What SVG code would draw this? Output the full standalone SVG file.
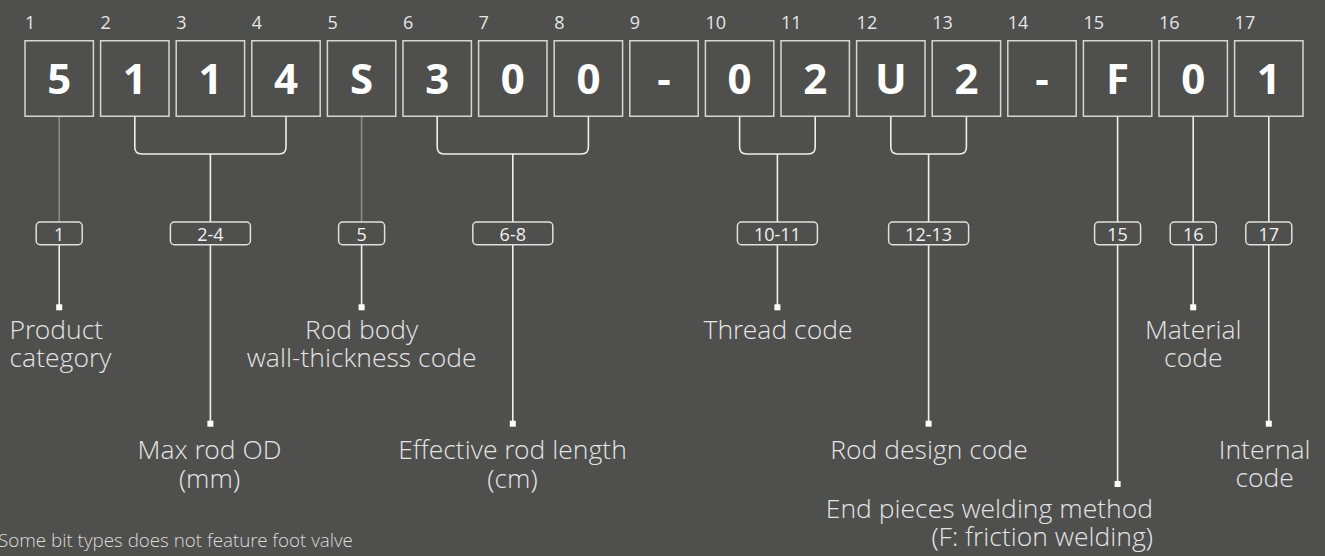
<svg xmlns="http://www.w3.org/2000/svg" width="1325" height="556" viewBox="0 0 1325 556">
<style>
.bg{fill:#4f4f4d}
.box{fill:none;stroke:#d6d6d6;stroke-width:1.5}
.ch{font-family:"Open Sans","Noto Sans","Liberation Sans",sans-serif;font-weight:700;font-size:42px;fill:#ffffff;text-anchor:middle}
.idx{font-family:"Open Sans","Noto Sans","Liberation Sans",sans-serif;font-size:18px;fill:#e6e6e6}
.tag{fill:none;stroke:#e0e0e0;stroke-width:1.5}
.tagt{font-family:"Open Sans","Noto Sans","Liberation Sans",sans-serif;font-size:18px;fill:#f2f2f2;text-anchor:middle}
.lbl{font-family:"Open Sans Light","Open Sans","Noto Sans","Liberation Sans",sans-serif;font-weight:300;font-size:26.5px;fill:#e4e4e4}
.mid{text-anchor:middle}
.end{text-anchor:end}
.note{font-family:"Open Sans Light","Open Sans","Noto Sans","Liberation Sans",sans-serif;font-weight:300;font-size:18.8px;fill:#dcdcdc}
.ln{fill:none;stroke:#eeeeee;stroke-width:1.6}
.lng{fill:none;stroke:#8a8a8a;stroke-width:1.6}
.dot{fill:#ffffff}
</style>
<rect class="bg" x="0" y="0" width="1325" height="556"/>

<g id="connectors">
  <path class="lng" d="M59.2,116.3V222"/>
  <path class="ln" d="M134.8,116.3V147Q134.8,154 141.8,154H279Q286,154 286,147V116.3M210.4,154V222"/>
  <path class="lng" d="M361.6,116.3V222"/>
  <path class="ln" d="M437.2,116.3V147Q437.2,154 444.2,154H581.4Q588.4,154 588.4,147V116.3M512.8,154V222"/>
  <path class="ln" d="M739.6,116.3V147Q739.6,154 746.6,154H808.2Q815.2,154 815.2,147V116.3M777.4,154V222"/>
  <path class="ln" d="M890.8,116.3V147Q890.8,154 897.8,154H959.4Q966.4,154 966.4,147V116.3M928.6,154V222"/>
  <path class="ln" d="M1117.6,116.3V222"/>
  <path class="ln" d="M1193.2,116.3V222"/>
  <path class="ln" d="M1268.8,116.3V222"/>
  <path class="ln" d="M59.2,244.7V307"/>
  <path class="ln" d="M210.4,244.7V423"/>
  <path class="ln" d="M361.6,244.7V307"/>
  <path class="ln" d="M512.8,244.7V423"/>
  <path class="ln" d="M777.4,244.7V307"/>
  <path class="ln" d="M928.6,244.7V423"/>
  <path class="ln" d="M1117.6,244.7V484"/>
  <path class="ln" d="M1193.2,244.7V307"/>
  <path class="ln" d="M1268.8,244.7V423"/>
  <rect class="dot" x="56.2" y="304.3" width="6" height="6"/>
  <rect class="dot" x="207.4" y="420.7" width="6" height="6"/>
  <rect class="dot" x="358.6" y="304.3" width="6" height="6"/>
  <rect class="dot" x="509.8" y="420.7" width="6" height="6"/>
  <rect class="dot" x="774.4" y="304.3" width="6" height="6"/>
  <rect class="dot" x="925.6" y="420.7" width="6" height="6"/>
  <rect class="dot" x="1114.6" y="481" width="6" height="6"/>
  <rect class="dot" x="1190.2" y="304.3" width="6" height="6"/>
  <rect class="dot" x="1265.8" y="420.7" width="6" height="6"/>
</g>

<g id="char-1"><text class="idx" x="25" y="29">1</text><rect class="box" x="25" y="40.75" width="68.4" height="75.5"/><text class="ch" x="59.2" y="94.3">5</text></g>
<g id="char-2"><text class="idx" x="100.6" y="29">2</text><rect class="box" x="100.6" y="40.75" width="68.4" height="75.5"/><text class="ch" x="134.8" y="94.3">1</text></g>
<g id="char-3"><text class="idx" x="176.2" y="29">3</text><rect class="box" x="176.2" y="40.75" width="68.4" height="75.5"/><text class="ch" x="210.4" y="94.3">1</text></g>
<g id="char-4"><text class="idx" x="251.8" y="29">4</text><rect class="box" x="251.8" y="40.75" width="68.4" height="75.5"/><text class="ch" x="286" y="94.3">4</text></g>
<g id="char-5"><text class="idx" x="327.4" y="29">5</text><rect class="box" x="327.4" y="40.75" width="68.4" height="75.5"/><text class="ch" x="361.6" y="94.3">S</text></g>
<g id="char-6"><text class="idx" x="403" y="29">6</text><rect class="box" x="403" y="40.75" width="68.4" height="75.5"/><text class="ch" x="437.2" y="94.3">3</text></g>
<g id="char-7"><text class="idx" x="478.6" y="29">7</text><rect class="box" x="478.6" y="40.75" width="68.4" height="75.5"/><text class="ch" x="512.8" y="94.3">0</text></g>
<g id="char-8"><text class="idx" x="554.2" y="29">8</text><rect class="box" x="554.2" y="40.75" width="68.4" height="75.5"/><text class="ch" x="588.4" y="94.3">0</text></g>
<g id="char-9"><text class="idx" x="629.8" y="29">9</text><rect class="box" x="629.8" y="40.75" width="68.4" height="75.5"/><text class="ch" x="664" y="94.3">-</text></g>
<g id="char-10"><text class="idx" x="705.4" y="29">10</text><rect class="box" x="705.4" y="40.75" width="68.4" height="75.5"/><text class="ch" x="739.6" y="94.3">0</text></g>
<g id="char-11"><text class="idx" x="781" y="29">11</text><rect class="box" x="781" y="40.75" width="68.4" height="75.5"/><text class="ch" x="815.2" y="94.3">2</text></g>
<g id="char-12"><text class="idx" x="856.6" y="29">12</text><rect class="box" x="856.6" y="40.75" width="68.4" height="75.5"/><text class="ch" x="890.8" y="94.3">U</text></g>
<g id="char-13"><text class="idx" x="932.2" y="29">13</text><rect class="box" x="932.2" y="40.75" width="68.4" height="75.5"/><text class="ch" x="966.4" y="94.3">2</text></g>
<g id="char-14"><text class="idx" x="1007.8" y="29">14</text><rect class="box" x="1007.8" y="40.75" width="68.4" height="75.5"/><text class="ch" x="1042" y="94.3">-</text></g>
<g id="char-15"><text class="idx" x="1083.4" y="29">15</text><rect class="box" x="1083.4" y="40.75" width="68.4" height="75.5"/><text class="ch" x="1117.6" y="94.3">F</text></g>
<g id="char-16"><text class="idx" x="1159" y="29">16</text><rect class="box" x="1159" y="40.75" width="68.4" height="75.5"/><text class="ch" x="1193.2" y="94.3">0</text></g>
<g id="char-17"><text class="idx" x="1234.6" y="29">17</text><rect class="box" x="1234.6" y="40.75" width="68.4" height="75.5"/><text class="ch" x="1268.8" y="94.3">1</text></g>

<g id="tag-1"><rect class="tag" x="36.2" y="222" width="46" height="22.7" rx="4"/><text class="tagt" x="59.2" y="240.5">1</text></g>
<g id="tag-2-4"><rect class="tag" x="170.4" y="222" width="80" height="22.7" rx="4"/><text class="tagt" x="210.4" y="240.5">2-4</text></g>
<g id="tag-5"><rect class="tag" x="338.6" y="222" width="46" height="22.7" rx="4"/><text class="tagt" x="361.6" y="240.5">5</text></g>
<g id="tag-6-8"><rect class="tag" x="472.8" y="222" width="80" height="22.7" rx="4"/><text class="tagt" x="512.8" y="240.5">6-8</text></g>
<g id="tag-10-11"><rect class="tag" x="737.4" y="222" width="80" height="22.7" rx="4"/><text class="tagt" x="777.4" y="240.5">10-11</text></g>
<g id="tag-12-13"><rect class="tag" x="888.6" y="222" width="80" height="22.7" rx="4"/><text class="tagt" x="928.6" y="240.5">12-13</text></g>
<g id="tag-15"><rect class="tag" x="1094.6" y="222" width="46" height="22.7" rx="4"/><text class="tagt" x="1117.6" y="240.5">15</text></g>
<g id="tag-16"><rect class="tag" x="1170.2" y="222" width="46" height="22.7" rx="4"/><text class="tagt" x="1193.2" y="240.5">16</text></g>
<g id="tag-17"><rect class="tag" x="1245.8" y="222" width="46" height="22.7" rx="4"/><text class="tagt" x="1268.8" y="240.5">17</text></g>

<g id="label-product"><text class="lbl" x="9.5" y="339">Product</text><text class="lbl" x="9.5" y="367">category</text></g>
<g id="label-maxod"><text class="lbl mid" x="209.5" y="459.3">Max rod OD</text><text class="lbl mid" x="209.5" y="487.5">(mm)</text></g>
<g id="label-wall"><text class="lbl mid" x="361.6" y="339">Rod body</text><text class="lbl mid" x="361.6" y="367">wall-thickness code</text></g>
<g id="label-length"><text class="lbl mid" x="512.5" y="459.3">Effective rod length</text><text class="lbl mid" x="512.5" y="487.5">(cm)</text></g>
<g id="label-thread"><text class="lbl mid" x="778" y="338.5">Thread code</text></g>
<g id="label-design"><text class="lbl mid" x="929" y="459.3">Rod design code</text></g>
<g id="label-welding"><text class="lbl end" x="1153" y="518.3">End pieces welding method</text><text class="lbl end" x="1153" y="546">(F: friction welding)</text></g>
<g id="label-material"><text class="lbl mid" x="1193.3" y="339">Material</text><text class="lbl mid" x="1193.3" y="367">code</text></g>
<g id="label-internal"><text class="lbl mid" x="1264.7" y="459">Internal</text><text class="lbl mid" x="1264.7" y="487.3">code</text></g>

<text class="note" x="-2" y="546.7">Some bit types does not feature foot valve</text>
</svg>
